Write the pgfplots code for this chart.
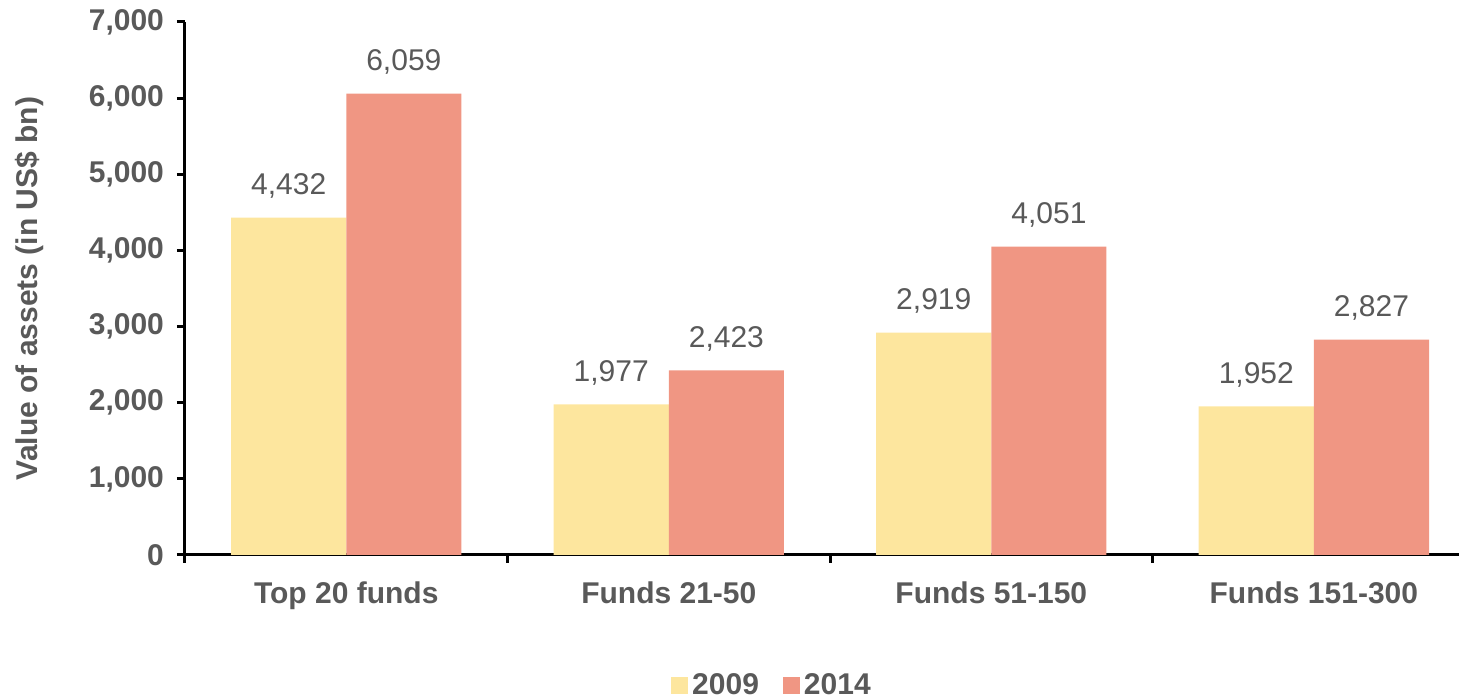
\documentclass[border=0pt]{standalone}
\usepackage{pgfplots}
\pgfplotsset{compat=1.18}
\usepackage{fontspec}
\setmainfont{Liberation Sans}
\definecolor{cyel}{RGB}{253,230,158}
\definecolor{cred}{RGB}{240,150,131}
\definecolor{tgray}{RGB}{89,89,89}
\begin{document}
\begin{tikzpicture}
\begin{axis}[
  name=ax,
  scale only axis,
  width=637pt, height=266.5pt,
  xmin=-0.5, xmax=3.45,
  ymin=0, ymax=7000,
  axis x line*=bottom, axis y line*=left,
  axis line style={-, line width=1.5pt, black},
  every tick/.style={black, line width=1.5pt},
  tick align=outside,
  xtick={0,1,2,3},
  xticklabels={Top 20 funds, Funds 21-50, Funds 51-150, Funds 151-300},
  major x tick style={draw=none},
  minor xtick={-0.5,0.5,1.5,2.5},
  minor tick length=4pt,
  major tick length=4pt,
  ytick={0,1000,...,7000},
  /pgf/number format/assume math mode=true,
  /pgf/number format/1000 sep={,},
  scaled y ticks=false,
  ticklabel style={font=\fontsize{15}{18}\selectfont\bfseries, text=tgray},
  xticklabel style={yshift=-6pt},
  yticklabel style={xshift=-3pt},
  ylabel={Value of assets (in US\$ bn)},
  ylabel style={at={(axis description cs:-0.1217,0.5)}, anchor=center, font=\fontsize{15}{18}\selectfont\bfseries, text=tgray},
  ybar, bar width=0.357,
  nodes near coords,
  every node near coord/.append style={font=\fontsize{15}{18}\selectfont, text=tgray, yshift=6pt},
  legend columns=2,
  legend style={at={(axis description cs:0.4615,-0.244)}, anchor=center, draw=none, font=\fontsize{15}{18}\selectfont\bfseries, text=tgray, /tikz/every even column/.append style={column sep=10pt}},
  legend image code/.code={\fill[#1] (0pt,-4.25pt) rectangle (8.5pt,4.25pt);},
]
\addplot[fill=cyel, draw=none, bar shift=-0.1785] coordinates {(0,4432) (1,1977) (2,2919) (3,1952)};
\addplot[fill=cred, draw=none, bar shift=0.1785] coordinates {(0,6059) (1,2423) (2,4051) (3,2827)};
\legend{2009,2014}
\end{axis}
\pgfresetboundingbox
\path ([shift={(-92.5pt,-71.5pt)}]ax.south west) rectangle ([shift={(0pt,11pt)}]ax.north east);
\end{tikzpicture}
\end{document}
